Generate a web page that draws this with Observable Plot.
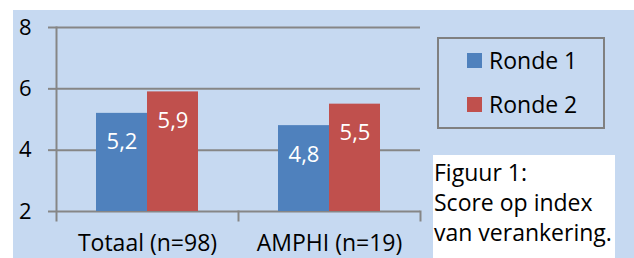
<!DOCTYPE html>
<html>
<head>
<meta charset="utf-8">
<script src="https://cdn.jsdelivr.net/npm/d3@7"></script>
<script src="https://cdn.jsdelivr.net/npm/@observablehq/plot@0.6"></script>
<style>
  html, body { margin: 0; padding: 0; background: #fff; }
  body { width: 634px; height: 258px; position: relative; overflow: hidden; font-family: "Open Sans", sans-serif; }
  #bg { position: absolute; left: 13px; top: 10px; width: 621px; height: 248px; background: #C6D9F1; }
  #chart { position: absolute; left: 0; top: 0; }
  #legend { position: absolute; left: 437px; top: 37px; width: 164px; height: 88px; border: 2px solid #808080; box-sizing: content-box; }
  .li { position: absolute; left: 28px; height: 30px; display: flex; align-items: center; font-size: 23px; color: #000; white-space: nowrap; }
  .sw { width: 15px; height: 15px; margin-right: 7px; }
  #caption { position: absolute; left: 433px; top: 155px; width: 182px; height: 103px; background: #fff; font-size: 23px; line-height: 30px; color: #000; padding-left: 1px; padding-top: 2px; box-sizing: border-box; white-space: nowrap; }
</style>
</head>
<body>
<div id="bg"></div>
<div id="chart"></div>
<div id="legend"></div>
<div id="caption"></div>
<script>
const groups = ["Totaal (n=98)", "AMPHI (n=19)"];
const series = ["Ronde 1", "Ronde 2"];
const ronde1 = [5.2, 4.8];
const ronde2 = [5.9, 5.5];
const yTicks = [2, 4, 6, 8];
const colors = ["#4F81BD", "#C0504D"];
const captionLines = ["Figuur 1:", "Score op index", "van verankering."];

const data = [];
groups.forEach((g, i) => {
  data.push({group: g, serie: series[0], value: ronde1[i]});
  data.push({group: g, serie: series[1], value: ronde2[i]});
});
const fmt = v => v.toFixed(1).replace(".", ",");

const chart = Plot.plot({
  width: 634,
  height: 258,
  marginLeft: 55,
  marginRight: 214,
  marginTop: 27,
  marginBottom: 47,
  style: {background: "transparent", fontFamily: "'Open Sans', sans-serif", overflow: "visible"},
  fx: {domain: groups, padding: 0, label: null},
  x: {domain: series, paddingInner: 0, paddingOuter: 0.76, axis: null},
  y: {domain: [2, 8], label: null},
  color: {domain: series, range: colors},
  marks: [
    Plot.ruleY(yTicks, {stroke: "#868686", strokeWidth: 2}),
    Plot.barY(data, {fx: "group", x: "serie", y1: 2, y2: "value", fill: "serie"}),
    Plot.text(data, {fx: "group", x: "serie", y: "value", text: d => fmt(d.value), fill: "#fff", dy: 29, fontSize: 22}),
    Plot.frame({anchor: "left", fx: [groups[0]], stroke: "#868686", strokeWidth: 2, strokeOpacity: 1, insetBottom: -9}),
    Plot.frame({anchor: "right", stroke: "#868686", strokeWidth: 2, strokeOpacity: 1, insetTop: 184, insetBottom: -9}),
    Plot.axisY({ticks: yTicks, tickSize: 8, tickPadding: 17, tickFormat: d => d, fontSize: 22, stroke: "#868686", strokeWidth: 2, strokeOpacity: 1, fill: "#000"}),
    Plot.axisFx({anchor: "bottom", tickSize: 0, tickPadding: 23, fontSize: 23, fill: "#000", label: null})
  ]
});
document.getElementById("chart").appendChild(chart);

const legend = document.getElementById("legend");
series.forEach((s, i) => {
  const el = document.createElement("div");
  el.className = "li";
  el.style.top = (i === 0 ? 6 : 50) + "px";
  el.innerHTML = `<span class="sw" style="background:${colors[i]}"></span><span>${s}</span>`;
  legend.appendChild(el);
});
document.getElementById("caption").innerHTML = captionLines.map(l => `<div>${l}</div>`).join("");
</script>
</body>
</html>
